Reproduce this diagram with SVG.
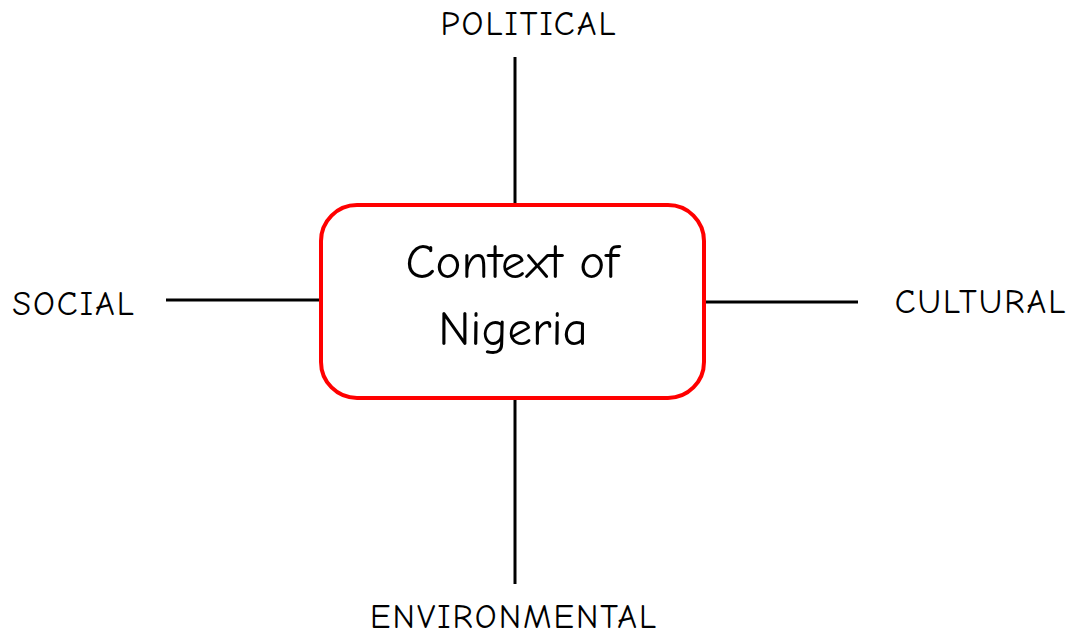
<svg xmlns="http://www.w3.org/2000/svg" width="1070" height="638" viewBox="0 0 1070 638">
  <style>
    .label { font-family: "Comic Sans MS", "Comic Neue", "Liberation Sans", sans-serif; font-size: 34px; letter-spacing: 2px; fill: #000; text-anchor: middle; }
    .title { font-family: "Comic Sans MS", "Comic Neue", "Liberation Sans", sans-serif; font-size: 49px; fill: #000; text-anchor: middle; }
    .spoke { stroke: #000; stroke-width: 3; fill: none; }
    .core { fill: #fff; stroke: #ff0000; stroke-width: 4; }
  </style>
  <rect width="1070" height="638" fill="#fff"/>

  <!-- spokes from the central box -->
  <g id="connectors">
    <line class="spoke" x1="515" y1="57" x2="515" y2="205"/>
    <line class="spoke" x1="515" y1="398" x2="515" y2="584"/>
    <line class="spoke" x1="166" y1="300" x2="321" y2="300"/>
    <line class="spoke" x1="704" y1="302" x2="858" y2="302"/>
  </g>

  <g id="context">
    <rect class="core" x="321" y="205" width="383" height="193" rx="36" ry="36"/>
    <text class="title" x="512" y="278">Context of</text>
    <text class="title" x="513" y="345">Nigeria</text>
  </g>

  <g id="political">
    <text class="label" x="529" y="35">POLITICAL</text>
  </g>
  <g id="social">
    <text class="label" x="74" y="315">SOCIAL</text>
  </g>
  <g id="cultural">
    <text class="label" x="981" y="313">CULTURAL</text>
  </g>
  <g id="environmental">
    <text class="label" x="514" y="628">ENVIRONMENTAL</text>
  </g>
</svg>
